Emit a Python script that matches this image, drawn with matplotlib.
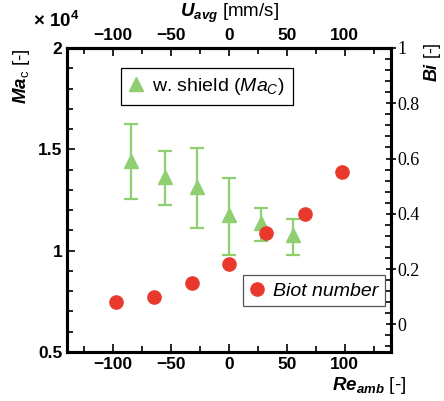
import matplotlib
matplotlib.use('Agg')
import matplotlib.pyplot as plt
from matplotlib.lines import Line2D
from matplotlib.ticker import MultipleLocator


plt.rcParams['font.family'] = 'Liberation Sans'
plt.rcParams['mathtext.fontset'] = 'custom'
plt.rcParams['mathtext.rm'] = 'Liberation Sans'
plt.rcParams['mathtext.it'] = 'Liberation Sans:italic'
plt.rcParams['mathtext.bf'] = 'Liberation Sans:bold'
plt.rcParams['mathtext.bfit'] = 'Liberation Sans:italic:bold'


#critical Marangoni number with shield (in units of 1e4)
re_shield = [-85, -55, -28, 0, 28, 55]
ma_c = [1.444, 1.365, 1.313, 1.175, 1.136, 1.075]
ma_c_low = [1.254, 1.224, 1.110, 0.980, 1.046, 0.980]
ma_c_high = [1.627, 1.490, 1.508, 1.359, 1.211, 1.158]

#Biot number
re_bi = [-98, -65, -32, 0, 32, 66, 98]
bi = [0.082, 0.099, 0.150, 0.220, 0.331, 0.401, 0.551]

x_ticks = [-100, -50, 0, 50, 100]

green = '#8fcf6f'
red = '#e8392c'


fig = plt.figure(figsize=(4.44, 4.01), dpi=100)
ax = fig.add_axes([67/444, 1 - 352/401, 324/444, 304/401])

err_low = [m - l for m, l in zip(ma_c, ma_c_low)]
err_high = [h - m for m, h in zip(ma_c, ma_c_high)]
ax.errorbar(re_shield, ma_c, yerr=[err_low, err_high], fmt='^', color=green,
            markersize=10, elinewidth=1.6, capsize=5, capthick=1.6)

ax.set_xlim(-140, 140)
ax.set_ylim(0.5, 2)
ax.set_xticks(x_ticks)
ax.xaxis.set_minor_locator(MultipleLocator(25))
ax.set_yticks([0.5, 1, 1.5, 2])
ax.set_yticklabels(['0.5', '1', '1.5', '2'])
ax.yaxis.set_minor_locator(MultipleLocator(0.1))
ax.tick_params(which='both', direction='in', top=False, right=False, width=1.2,
               labelsize=12.5)
ax.tick_params(which='major', length=6)
ax.tick_params(which='minor', length=4)
for lab in ax.get_xticklabels() + ax.get_yticklabels():
    lab.set_fontweight('bold')
for s in ax.spines.values():
    s.set_linewidth(2.2)

#top axis, same positions
top = ax.secondary_xaxis('top')
top.set_xticks(x_ticks)
top.xaxis.set_minor_locator(MultipleLocator(25))
top.tick_params(which='both', direction='in', width=1.2, labelsize=12.5)
top.tick_params(which='major', length=6)
top.tick_params(which='minor', length=4)
for lab in top.get_xticklabels():
    lab.set_fontweight('bold')
top.spines['top'].set_linewidth(2.2)

#right axis for Bi
ax2 = ax.twinx()
ax2.plot(re_bi, bi, 'o', color=red, markersize=9.5, linestyle='none')
ax2.set_ylim(-0.1, 1)
ax2.set_yticks([0, 0.2, 0.4, 0.6, 0.8, 1])
ax2.set_yticklabels(['0', '0.2', '0.4', '0.6', '0.8', '1'])
ax2.yaxis.set_minor_locator(MultipleLocator(0.04))
ax2.tick_params(axis='y', which='major', direction='inout', length=7, width=1.2, pad=1)
ax2.tick_params(axis='y', which='minor', direction='in', length=4, width=1.2)
for lab in ax2.get_yticklabels():
    lab.set_fontfamily('Liberation Serif')
    lab.set_fontsize(13)
for s in ax2.spines.values():
    s.set_linewidth(2.2)

#legends
h1 = Line2D([], [], marker='^', color=green, markersize=10, linestyle='none')
leg1 = ax.legend([h1], [r'w. shield ($Ma_C$)'], loc='upper left',
                 bbox_to_anchor=(0.167, 0.934), borderaxespad=0, fancybox=False,
                 edgecolor='black', framealpha=1, fontsize=14,
                 handlelength=0.7, handletextpad=0.5, borderpad=0.4)
leg1.get_frame().set_linewidth(0.9)

h2 = Line2D([], [], marker='o', color=red, markersize=9.5, linestyle='none')
leg2 = ax2.legend([h2], ['Biot number'], loc='upper left',
                  bbox_to_anchor=(0.543, 0.253), borderaxespad=0, fancybox=False,
                  edgecolor='#555555', framealpha=1,
                  handlelength=0.7, handletextpad=0.5, borderpad=0.35,
                  prop={'style': 'italic', 'size': 14})
leg2.get_frame().set_linewidth(0.9)

#axis labels
fig.text(21/444, 1 - 76/401, r'$\mathbfit{Ma}_{\mathrm{c}}$ [-]', rotation=90,
         ha='center', va='center', fontsize=13.5)
fig.text(56/444, 1 - 21/401, r'$\mathbf{\times\ 10^4}$', ha='center', va='center',
         fontsize=13.5)
fig.text(229/444, 1 - 13/401, r'$\mathbfit{U}_{\mathbfit{avg}}$ [mm/s]',
         ha='center', va='center', fontsize=13.5)
fig.text(369/444, 1 - 385/401, r'$\mathbfit{Re}_{\mathbfit{amb}}$ [-]',
         ha='center', va='center', fontsize=13.5)
fig.text(432/444, 1 - 62/401, r'$\mathbfit{Bi}$ [-]', rotation=90,
         ha='center', va='center', fontsize=13)

fig.savefig('out.png', dpi=100)
